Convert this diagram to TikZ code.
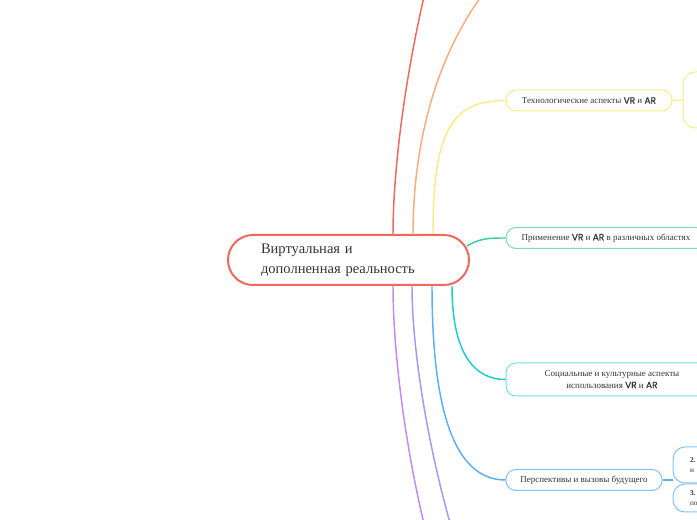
\documentclass[tikz,border=0pt]{standalone}
\usepackage{fontspec}
\setmainfont{Liberation Serif}
\newfontfamily\vrfont{Poppins}[FakeBold=0.6]
\newcommand{\VRx}{{\vrfont VR}}
\newcommand{\ARx}{{\vrfont AR}}
\usetikzlibrary{calc}
\definecolor{cred}{HTML}{F0675C}
\definecolor{corange}{HTML}{FDAA7D}
\definecolor{cyellow}{HTML}{F8EC86}
\definecolor{cgreen}{HTML}{3CCF9F}
\definecolor{cgreenb}{HTML}{74DFBC}
\definecolor{cteal}{HTML}{1BCDD1}
\definecolor{ctealb}{HTML}{6FE1E6}
\definecolor{cblue}{HTML}{5BAFF5}
\definecolor{cblueb}{HTML}{84C2F7}
\definecolor{clav}{HTML}{A797F4}
\definecolor{cviolet}{HTML}{C689EF}
\definecolor{textc}{HTML}{333333}
\begin{document}
\begin{tikzpicture}[x=0.75pt,y=-0.75pt,
  central/.style={draw=cred, line width=1.5pt, rounded corners=18.75pt, fill=white,
    minimum height=37.5pt, inner xsep=24.75pt, text width=131.25pt, align=left,
    font=\fontsize{10.9}{15}\selectfont, text=textc},
  childbox/.style={rounded corners=7.5pt, line width=0.75pt, fill=white,
    font=\fontsize{6.75}{8.5}\selectfont, text=textc, minimum height=15.75pt, align=center, inner sep=0pt},
  leafbox/.style={rounded corners=9pt, line width=0.75pt, fill=white, inner ysep=0pt,
    font=\fontsize{5.5}{7}\selectfont, text=textc, align=left},
  branch/.style={line width=1.1pt},
  thin/.style={line width=0.9pt}]
\useasboundingbox (0,0) rectangle (697,520);
\clip (0,0) rectangle (697,520);
\fill[white] (0,0) rectangle (697,520);

% nodes
\node[central] (c) at (348.5,260) {Виртуальная и\\дополненная реальность};
\node[childbox, draw=cyellow, minimum width=124.5pt] (n1) at (589,100.5) {Технологические аспекты \VRx\ и \ARx};
\node[childbox, draw=cgreenb, minimum width=150pt] (n2) at (606,238) {Применение \VRx\ и \ARx\ в различных областях};
\node[childbox, draw=ctealb, minimum width=159pt, minimum height=24.75pt] (n3) at (612,379.5) {Социальные и культурные аспекты\\использования \VRx\ и \ARx};
\node[childbox, draw=cblueb, minimum width=117pt] (n4) at (584,480) {Перспективы и вызовы будущего};

\node[leafbox, draw=cyellow, minimum width=87.75pt, minimum height=42pt] (y1) at (741.5,100) {};
\node[leafbox, draw=cblueb, minimum width=95.25pt, minimum height=27pt, inner xsep=12.75pt, text width=69.75pt] (b2) at (736.5,465) {\textbf{2.}\\и};
\node[leafbox, draw=cblueb, minimum width=95.25pt, minimum height=21pt, inner xsep=12.75pt, text width=69.75pt] (b3) at (736.5,498) {\textbf{3.}\\по};

% off-canvas ends
\coordinate (redEnd) at (426,-12);
\coordinate (orEnd) at (486,-10);
\coordinate (lavEnd) at (455,540);
\coordinate (vioEnd) at (428,540);
\coordinate (bj) at (673,480);

% branches from the central node
\draw[branch, cred] ($(c.north)+(44.5,0)$) .. controls (393,180) and (402,90) .. (redEnd);
\draw[branch, corange] ($(c.north)+(64.5,0)$) .. controls (413,170) and (425,70) .. (orEnd);
\draw[branch, cyellow] ($(c.north)+(84.5,0)$) .. controls (433,130) and (452,100.5) .. (n1.west);
\draw[branch, cgreen] ($(c.east)+(-3,-14)$) .. controls (480,238) and (490,238) .. (n2.west);
\draw[branch, cteal] ($(c.south)+(103.5,0)$) .. controls (452,350) and (472,379.5) .. (n3.west);
\draw[branch, cblue] ($(c.south)+(83.5,0)$) .. controls (432,420) and (458,480) .. (n4.west);
\draw[branch, clav] ($(c.south)+(63.5,0)$) .. controls (412,350) and (428,450) .. (lavEnd);
\draw[branch, cviolet] ($(c.south)+(44.5,0)$) .. controls (393,350) and (405,450) .. (vioEnd);

% sub-branches
\draw[thin, cyellow] (n1.east) -- (y1.west);
\draw[thin, cblue] (n4.east) -- (bj);
\end{tikzpicture}
\end{document}
